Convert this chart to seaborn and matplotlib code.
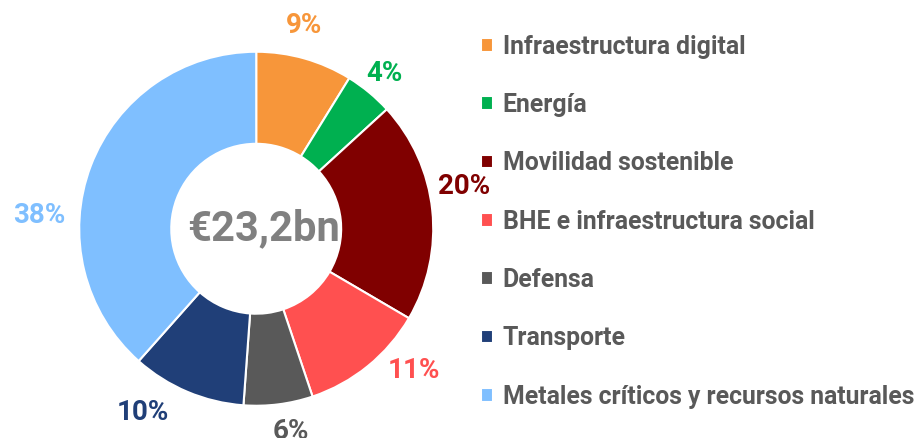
import matplotlib.pyplot as plt
import numpy as np
import seaborn as sns

# sectors, clockwise from 12 o'clock
sectors = [
    "Infraestructura digital",
    "Energía",
    "Movilidad sostenible",
    "BHE e infraestructura social",
    "Defensa",
    "Transporte",
    "Metales críticos y recursos naturales",
]
shares = [8.8, 4.4, 20.2, 11.4, 6.3, 10.4, 38.4]
pct_labels = ["9%", "4%", "20%", "11%", "6%", "10%", "38%"]
colors = ["#F7963A", "#00B050", "#800000", "#FF5050", "#595959", "#203F78", "#7FBFFF"]
total_label = "€23,2bn"

# label placement (excel-style best fit): clockwise nudge from mid angle, radius
label_nudge_deg = [-2.6, 0, -5.3, -9, -2.6, 8.9, -17.3]
label_radius = [1.18, 1.14, 1.2, 1.2, 1.16, 1.22, 1.23]

sns.set_theme(style="white")
plt.rcParams["font.family"] = ["Roboto", "DejaVu Sans"]
plt.rcParams["font.weight"] = "bold"

fig = plt.figure(figsize=(9.23, 4.38), dpi=100)
ax = fig.add_axes([0.0379, -0.0274, 0.4794, 1.0103])

wedges, _ = ax.pie(
    shares,
    colors=colors,
    startangle=90,
    counterclock=False,
    wedgeprops=dict(width=0.52, edgecolor="white", linewidth=1.5),
)

# percent labels outside each slice
for w, lab, c, nudge, r in zip(wedges, pct_labels, colors, label_nudge_deg, label_radius):
    ang = np.deg2rad((w.theta1 + w.theta2) / 2 - nudge)
    ax.text(r * np.cos(ang), r * np.sin(ang), lab, ha="center", va="center",
            fontsize=20, fontweight="bold", color=c, clip_on=False)

ax.text(0.04, 0, total_label, ha="center", va="center", fontsize=30,
        fontweight="bold", color="#808080")
ax.set_xlim(-1.25, 1.25)
ax.set_ylim(-1.25, 1.25)
ax.set_aspect("equal")

fig.legend(
    wedges, sectors,
    loc="center left",
    bbox_to_anchor=(0.497, 0.494),
    frameon=False,
    fontsize=17.8,
    labelcolor="#595959",
    handlelength=0.48,
    handleheight=0.48,
    handletextpad=0.4,
    labelspacing=1.39,
)

fig.savefig("out.png", dpi=100)
